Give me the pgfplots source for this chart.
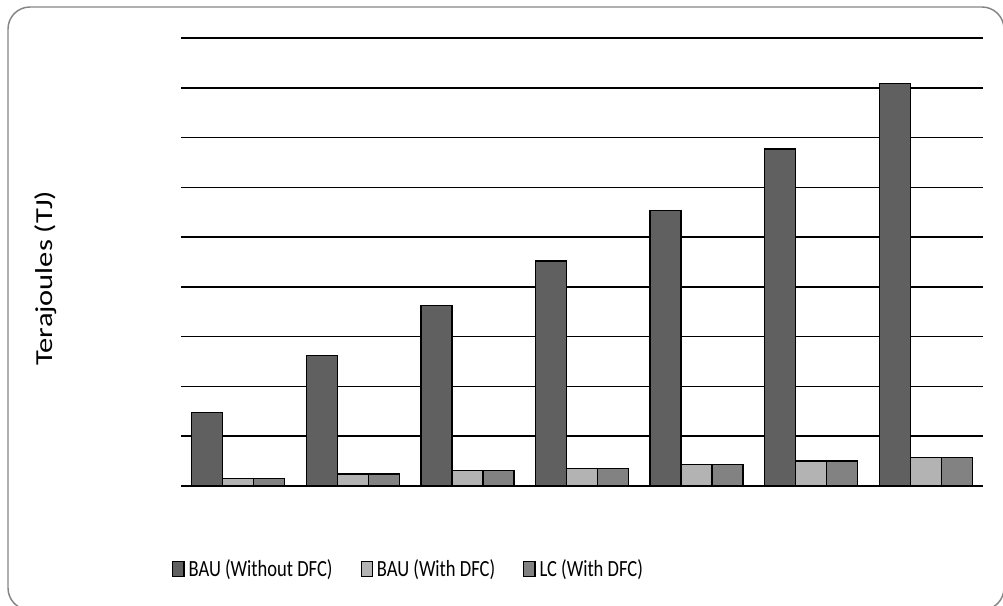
\documentclass[border=0pt]{standalone}
\usepackage{pgfplots}
\pgfplotsset{compat=1.18}
\usepackage{pgfplotstable}
\usepackage{fontspec}
\setmainfont{Carlito}

\definecolor{darkbar}{HTML}{606060}
\definecolor{lightbar}{HTML}{B3B3B3}
\definecolor{midbar}{HTML}{828282}
\definecolor{framegray}{HTML}{858585}

% energy use per year, in gridline units (no tick labels on the original)
\pgfplotstableread{
x   bau    baudfc  lcdfc
0   1.48   0.155   0.155
1   2.62   0.24    0.24
2   3.62   0.31    0.31
3   4.52   0.355   0.355
4   5.54   0.43    0.43
5   6.77   0.50    0.50
6   8.08   0.57    0.57
}\tj

% the original text is stretched vertically
\newcommand{\tallt}[1]{\scalebox{1}[1.25]{#1}}
\newcommand{\longt}[1]{\scalebox{1.25}[1]{#1}}

\begin{document}
\begin{tikzpicture}
\useasboundingbox (0,0) rectangle (752.25pt,454.5pt);
\draw[framegray, line width=1.1pt, rounded corners=16.5pt]
  (6pt,-3pt) rectangle (753pt,449.25pt);
\begin{axis}[
    at={(135.75pt,90pt)}, anchor=south west,
    scale only axis,
    width=601.5pt, height=336pt,
    ybar=0pt,
    bar width=23.25pt,
    xmin=-0.5, xmax=6.5,
    ymin=0, ymax=9,
    xtick=\empty,
    ytick={0,1,...,9},
    yticklabels={},
    major tick length=0pt,
    ymajorgrids,
    grid style={black, line width=1.1pt},
    axis line style={draw=none},
    ylabel={\longt{Terajoules (TJ)}},
    ylabel style={at={(axis description cs:-0.1686,0.464)}, anchor=center,
        font=\fontsize{18.3}{22}\selectfont},
    legend style={draw=none, at={(axis description cs:-0.0112,-0.185)}, anchor=west,
        legend columns=3, font=\fontsize{13.9}{16}\selectfont,
        /tikz/every even column/.append style={column sep=19pt},
        /tikz/every odd column/.append style={column sep=1pt},
        inner sep=0pt},
    legend image code/.code={\draw[#1, line width=0.9pt] (0pt,-5.5pt) rectangle (8.4pt,5.5pt);},
]
\addplot[fill=darkbar, draw=black, line width=1pt] table[x=x, y=bau] {\tj};
\addplot[fill=lightbar, draw=black, line width=1pt] table[x=x, y=baudfc] {\tj};
\addplot[fill=midbar, draw=black, line width=1pt] table[x=x, y=lcdfc] {\tj};
\legend{\tallt{BAU (Without DFC)}, \tallt{BAU (With DFC)}, \tallt{LC (With DFC)}}
\end{axis}
\end{tikzpicture}
\end{document}
